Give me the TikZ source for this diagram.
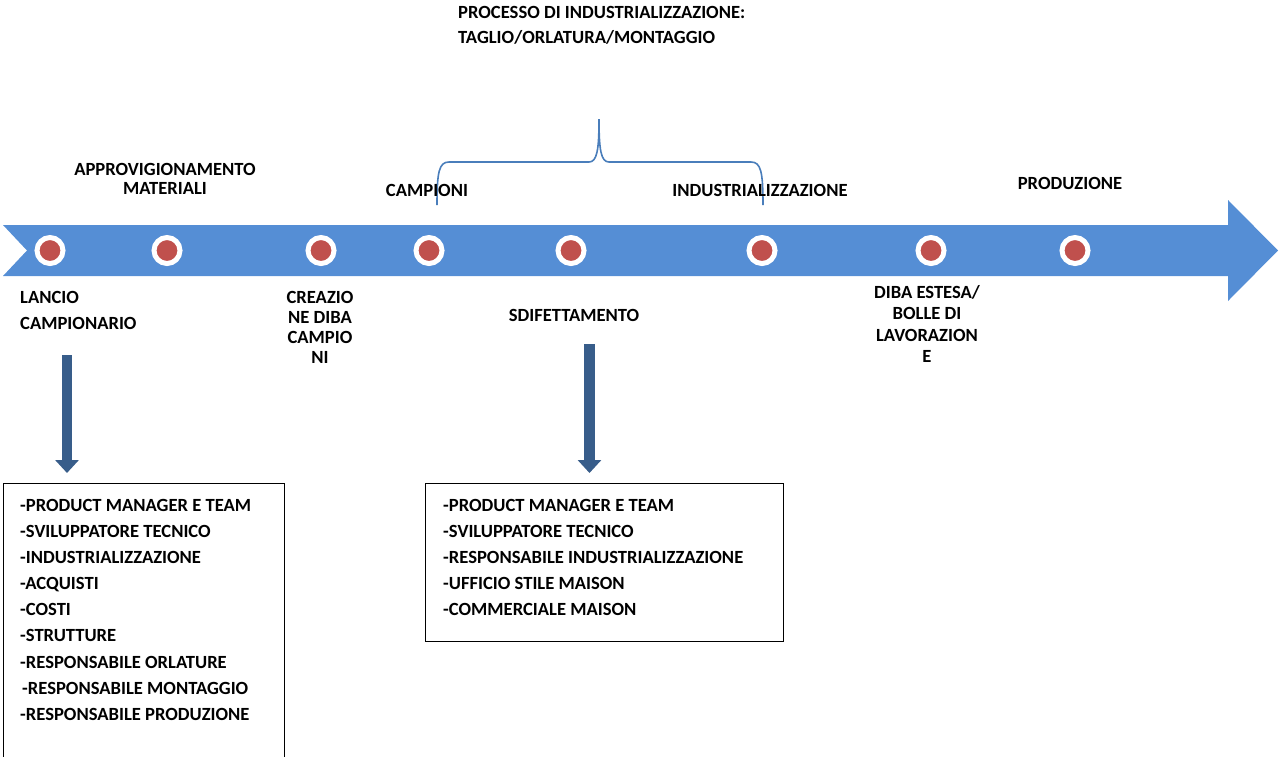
\documentclass[tikz,border=0pt]{standalone}
\usepackage{fontspec}
\setmainfont{Carlito}
\usetikzlibrary{arrows.meta}
\definecolor{bandblue}{HTML}{558ED5}
\definecolor{dotred}{HTML}{C0504D}
\definecolor{darkblue}{HTML}{385D8A}
\definecolor{braceblue}{HTML}{4A7EBB}
\tikzset{
  lbl/.style={font=\bfseries\fontsize{18.6}{20}\selectfont, inner sep=0pt},
  milestone/.style={circle, fill=dotred, draw=white, line width=5pt,
    minimum size=26pt, inner sep=0pt},
  downarrow/.style={draw=darkblue, line width=10.5pt,
    -{Triangle[width=23pt,length=13pt]}},
  frame/.style={draw=black, line width=0.8pt},
  brace/.style={draw=braceblue, line width=1.6pt},
}
\begin{document}
\begin{tikzpicture}[x=1pt,y=-1pt]
\useasboundingbox (0,0) rectangle (1280,756);

% timeline band with arrow head
\fill[bandblue] (3,225) -- (1228,225) -- (1228,200) -- (1278,250.5)
  -- (1228,301) -- (1228,276) -- (3,276) -- (27,250.5) -- cycle;

% milestones along the timeline
\foreach \x [count=\i] in {50,167,321,429,571,762,931,1075}
  \node[milestone] (m\i) at (\x,250.5) {};

% title above the brace
\node[lbl, font=\bfseries\fontsize{18.6}{25}\selectfont, align=left, anchor=north west]
  (title) at (458,6) {PROCESSO DI INDUSTRIALIZZAZIONE:\\TAGLIO/ORLATURA/MONTAGGIO};

% brace grouping campioni .. industrializzazione
\draw[brace] (437,205) .. controls (437,172) and (439,162) .. (449,162)
  -- (589,162) .. controls (597,162) and (599,150) .. (599,119)
  .. controls (599,150) and (601,162) .. (609,162)
  -- (751,162) .. controls (761,162) and (763,172) .. (763,205);

% labels above the timeline
\node[lbl, font=\bfseries\fontsize{18.6}{19}\selectfont, align=center, anchor=north] (approv) at (165,163)
  {APPROVIGIONAMENTO\\MATERIALI};
\node[lbl] (campioni) at (427,190) {CAMPIONI};
\node[lbl] (indus) at (760,190) {INDUSTRIALIZZAZIONE};
\node[lbl] (produz) at (1070,183) {PRODUZIONE};

% labels below the timeline
\node[lbl, font=\bfseries\fontsize{18.6}{26}\selectfont, align=left, anchor=north west]
  (lancio) at (20,291) {LANCIO\\CAMPIONARIO};
\node[lbl, align=center, anchor=north] (creazione) at (320,291)
  {CREAZIO\\NE DIBA\\CAMPIO\\NI};
\node[lbl] (sdifett) at (574,315) {SDIFETTAMENTO};
\node[lbl, font=\bfseries\fontsize{18.6}{21.5}\selectfont, align=center, anchor=north]
  (diba) at (927,285) {DIBA ESTESA/\\BOLLE DI\\LAVORAZION\\E};

% team boxes
\draw[frame] (3,758) -- (3,483) -- (284,483) -- (284,758);
\coordinate (boxA) at (67,483);
\node[lbl, font=\bfseries\fontsize{18.6}{26.1}\selectfont, align=left, anchor=north west]
  (teamA) at (20,499) {-PRODUCT MANAGER E TEAM\\-SVILUPPATORE TECNICO\\-INDUSTRIALIZZAZIONE\\-ACQUISTI\\-COSTI\\-STRUTTURE\\-RESPONSABILE ORLATURE\\\hspace*{2pt}-RESPONSABILE MONTAGGIO\\-RESPONSABILE PRODUZIONE};

\node[frame, minimum width=358pt, minimum height=158pt, anchor=north west, inner sep=0pt]
  (boxB) at (425,483) {};
\node[lbl, font=\bfseries\fontsize{18.6}{26}\selectfont, align=left, anchor=north west]
  (teamB) at (443,499) {-PRODUCT MANAGER E TEAM\\-SVILUPPATORE TECNICO\\-RESPONSABILE INDUSTRIALIZZAZIONE\\-UFFICIO STILE MAISON\\-COMMERCIALE MAISON};

% arrows from the milestones down to their teams
\coordinate (arrA) at (67,355);
\coordinate (arrB) at (589.5,344);
\draw[downarrow] (arrA) -- (arrA |- 0,473);
\draw[downarrow] (arrB) -- (arrB |- 0,473);
\end{tikzpicture}
\end{document}
